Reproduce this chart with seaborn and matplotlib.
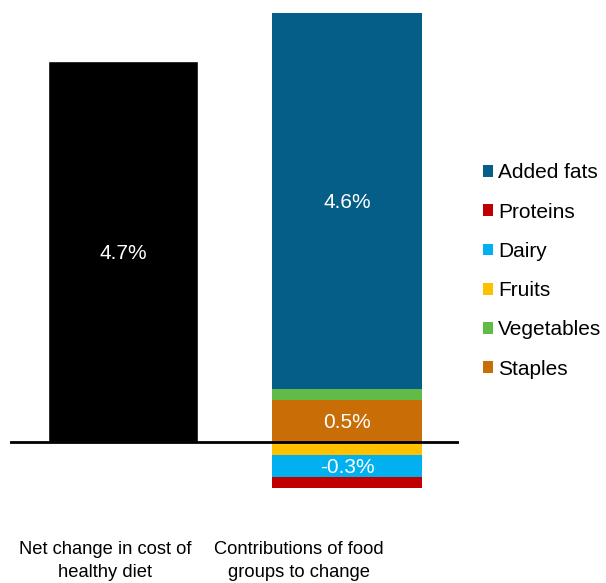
import matplotlib
matplotlib.use("Agg")
import matplotlib.pyplot as plt
import seaborn as sns
from matplotlib.patches import Patch

# Data (percent change in cost of a healthy diet)
categories = ["Net change in cost of\nhealthy diet", "Contributions of food\ngroups to change"]
net_change = 4.7
groups = ["Staples", "Vegetables", "Fruits", "Dairy", "Proteins", "Added fats"]
contributions = [0.52, 0.14, -0.16, -0.27, -0.14, 4.63]
colors = {
    "Added fats": "#045E87",
    "Proteins": "#C00000",
    "Dairy": "#00B0F0",
    "Fruits": "#FFC000",
    "Vegetables": "#62BB46",
    "Staples": "#C96D07",
}
legend_order = ["Added fats", "Proteins", "Dairy", "Fruits", "Vegetables", "Staples"]

sns.set_theme(style="white")
plt.rcParams["font.family"] = ["Liberation Sans", "DejaVu Sans"]
plt.rcParams["text.color"] = "black"

W, H = 606, 583
fig = plt.figure(figsize=(W / 100, H / 100), dpi=100)
# axes placed in pixel terms: x 10..459, y 8..495
ax = fig.add_axes([10 / W, 1 - 495 / H, 449 / W, 487 / H])

bar_w = 150 / 224

# Net change bar
sns.barplot(x=[0], y=[net_change], color="black", saturation=1, width=bar_w,
            native_scale=True, ax=ax, zorder=2)
ax.text(0, net_change / 2, f"{net_change:.1f}%", color="white", ha="center",
        va="center_baseline", fontsize=15)

# Stacked contributions: positives upward, negatives downward
pos_base, neg_base = 0.0, 0.0
for g, v in zip(groups, contributions):
    if v >= 0:
        bottom = pos_base
        pos_base += v
    else:
        bottom = neg_base
        neg_base += v
    ax.bar(1, v, bottom=bottom, width=bar_w, color=colors[g], linewidth=0, zorder=2)
    if abs(v) >= 0.25:
        ax.text(1, bottom + v / 2, f"{v:.1f}%", color="white", ha="center",
                va="center_baseline", fontsize=15)

ax.axhline(0, color="black", lw=2, zorder=3)
ax.set_xlim(-113 / 224, 1 + 112 / 224)
ax.set_ylim(-53 / 81.06, 434 / 81.06)
ax.set_xticks([])
ax.set_yticks([])
ax.set_xlabel("")
ax.set_ylabel("")
for s in ax.spines.values():
    s.set_visible(False)

# Category captions
for cx, lab in zip([105, 299], categories):
    fig.text(cx / W, 2 / H, lab, ha="center", va="bottom", fontsize=13.2,
             linespacing=1.45, color="black")

handles = [Patch(facecolor=colors[g], edgecolor="none") for g in legend_order]
fig.legend(handles, legend_order, loc="upper left",
           bbox_to_anchor=(483 / W, 1 - 163.5 / H), frameon=False, fontsize=15,
           handlelength=0.48, handleheight=0.48, handletextpad=0.25,
           labelspacing=0.97, borderpad=0, borderaxespad=0, labelcolor="black")

fig.savefig("out.png", dpi=100)
